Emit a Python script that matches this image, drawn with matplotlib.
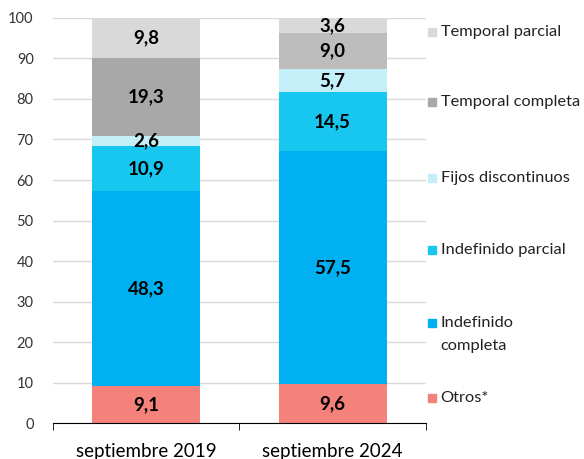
import numpy as np
import matplotlib
matplotlib.use("Agg")
import matplotlib.pyplot as plt

plt.rcParams['font.family'] = ['Lato', 'DejaVu Sans']

categories = ["septiembre 2019", "septiembre 2024"]
series = ["Otros*", "Indefinido\ncompleta", "Indefinido parcial",
          "Fijos discontinuos", "Temporal completa", "Temporal parcial"]
otros = [9.1, 9.6]
indef_completa = [48.3, 57.5]
indef_parcial = [10.9, 14.5]
fijos_disc = [2.6, 5.7]
temp_completa = [19.3, 9.0]
temp_parcial = [9.8, 3.6]
# y position of each legend entry (data units): marker, text
legend_marker_y = [6.2, 24.6, 42.7, 60.5, 79.3, 96.5]
legend_text_y = [6.2, 21.9, 42.7, 60.5, 79.3, 96.5]

values = [otros, indef_completa, indef_parcial, fijos_disc, temp_completa, temp_parcial]
colors = [["#F4817A", "#F4817A"], ["#00B0F0", "#00B0F0"], ["#17C7EF", "#17C7EF"],
          ["#C4EFF8", "#C4EFF8"], ["#A8A8A8", "#BDBDBD"], ["#D9D9D9", "#D9D9D9"]]

fig = plt.figure(figsize=(5.84, 4.59), dpi=100)
ax = fig.add_axes([0.091, 0.078, 0.638, 0.883])

x = np.arange(len(categories))
bottom = np.zeros(len(categories))
for vals, col in zip(values, colors):
    ax.bar(x, vals, 0.58, bottom=bottom, color=col, zorder=2)
    for xi, v, b in zip(x, vals, bottom):
        ax.text(xi, b + v / 2, f"{v:.1f}".replace(".", ","), ha="center", va="center",
                fontsize=13.5, fontweight="bold", color="black", zorder=3)
    bottom += np.array(vals)

ax.set_xlim(-0.5, 1.5)
ax.set_ylim(0, 100)
ax.set_yticks(range(0, 101, 10))
ax.yaxis.grid(True, color="#D9D9D9", linewidth=1, zorder=0)
ax.set_axisbelow(True)
ax.tick_params(axis="y", length=0, labelsize=10.5, colors="#333333", pad=14)
ax.set_xticks(x)
ax.set_xticklabels(categories, fontsize=13.5)
ax.set_xticks([-0.5, 0.5, 1.5], minor=True)
ax.tick_params(axis="x", which="major", length=0, pad=14)
ax.tick_params(axis="x", which="minor", length=5, direction="out", color="black")
for s in ["left", "right", "top"]:
    ax.spines[s].set_visible(False)
ax.spines["bottom"].set_color("black")

trans = ax.get_yaxis_transform()
for name, ym, yt, col in zip(series, legend_marker_y, legend_text_y, colors):
    ax.plot([1.016], [ym], marker="s", markersize=6, color=col[0], transform=trans,
            clip_on=False, linestyle="none")
    ax.text(1.040, yt, name, transform=trans, ha="left", va="center", fontsize=11.8,
            color="#222222", linespacing=1.75, clip_on=False)

fig.savefig("out.png", dpi=100)
